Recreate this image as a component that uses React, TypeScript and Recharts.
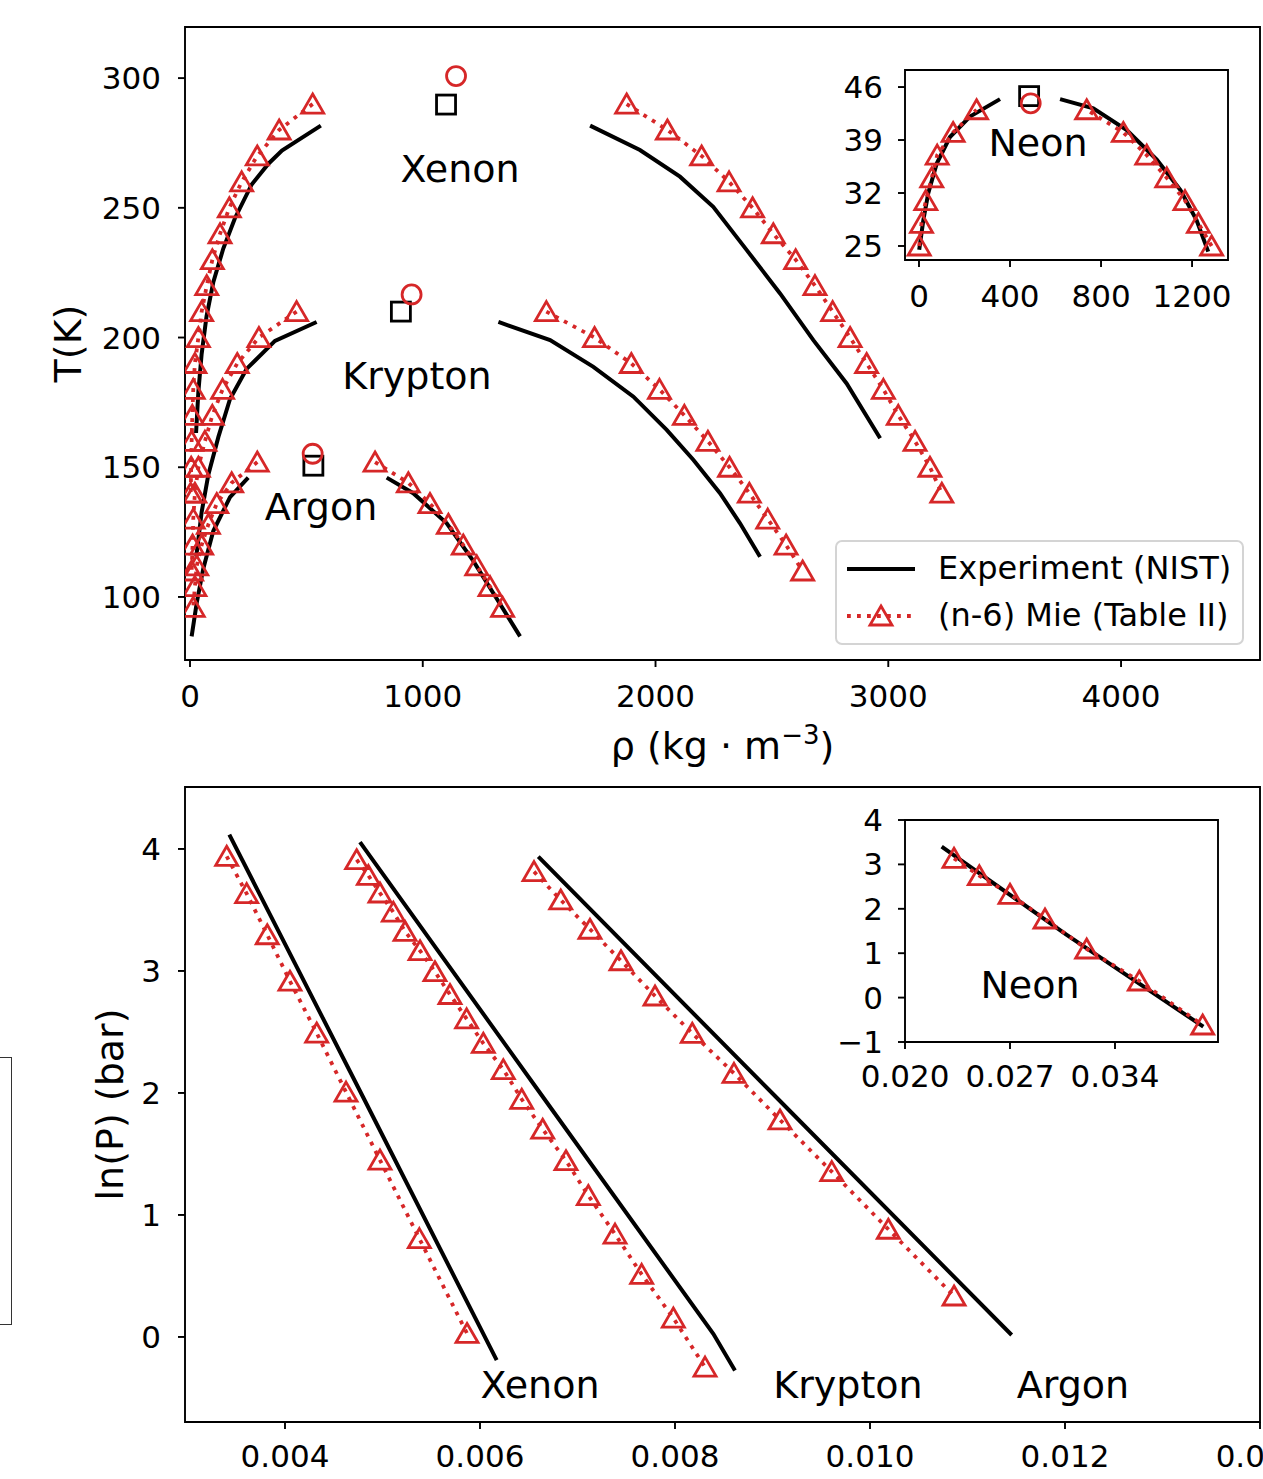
import React from 'react';
import {
  ComposedChart,
  Line,
  XAxis,
  YAxis,
  ReferenceArea,
  ReferenceDot,
  CartesianGrid,
} from 'recharts';

const RED = '#d62728';
const FONT = '"DejaVu Sans", sans-serif';

type Pt = { x: number; y: number };
const pts = (xs: number[], ys: number[]): Pt[] => xs.map((x, i) => ({ x, y: ys[i] }));

// ---- top panel: T vs rho ----
const rhoTicks = [0, 1000, 2000, 3000, 4000];
const tTicks = [100, 150, 200, 250, 300];

// NIST coexistence curves (rho kg/m3, T K)
const xeNistVap: Pt[] = [
  { x: 26, y: 163.2 }, { x: 36, y: 179.2 }, { x: 50, y: 193.7 }, { x: 71, y: 208.2 },
  { x: 100, y: 221.3 }, { x: 143, y: 234.3 }, { x: 193, y: 246 }, { x: 265, y: 259 },
  { x: 337, y: 267 }, { x: 395, y: 272.1 }, { x: 562, y: 281.7 },
];
const xeNistLiq: Pt[] = [
  { x: 1719, y: 281.7 }, { x: 1933, y: 272.3 }, { x: 2105, y: 262 }, { x: 2248, y: 250.4 },
  { x: 2392, y: 233.7 }, { x: 2535, y: 217 }, { x: 2678, y: 199 }, { x: 2821, y: 182.3 },
  { x: 2965, y: 161.2 },
];
const krNistVap: Pt[] = [
  { x: 27, y: 115.5 }, { x: 50, y: 132.7 }, { x: 79, y: 147.2 }, { x: 122, y: 161.7 },
  { x: 172, y: 176.3 }, { x: 243, y: 187.9 }, { x: 365, y: 198.7 }, { x: 544, y: 206 },
];
const krNistLiq: Pt[] = [
  { x: 1325, y: 206 }, { x: 1547, y: 199 }, { x: 1733, y: 188.7 }, { x: 1905, y: 177.2 },
  { x: 2048, y: 164.4 }, { x: 2163, y: 152.8 }, { x: 2277, y: 140 }, { x: 2363, y: 128.4 },
  { x: 2449, y: 115.5 },
];
const arNistVap: Pt[] = [
  { x: 7, y: 84.8 }, { x: 29, y: 97.8 }, { x: 57, y: 110.9 }, { x: 100, y: 125.4 },
  { x: 172, y: 138.5 }, { x: 250, y: 146 },
];
const arNistLiq: Pt[] = [
  { x: 845, y: 146 }, { x: 959, y: 140 }, { x: 1103, y: 128.4 }, { x: 1217, y: 113.9 },
  { x: 1318, y: 99.3 }, { x: 1418, y: 84.8 },
];

// (n-6) Mie simulation points
const xeMieT = [290, 280, 270, 260, 250, 240, 230, 220, 210, 200, 190, 180, 170, 160, 150, 140];
const xeMieVapRho = [527, 383, 289, 222, 169, 129, 96, 72, 50, 36, 21, 14, 10, 7, 5, 3];
const xeMieLiqRho = [1876, 2051, 2198, 2316, 2417, 2506, 2602, 2685, 2761, 2836, 2907, 2979, 3043, 3115, 3179, 3230];

const krMieT = [210, 200, 190, 180, 170, 160, 150, 140, 130, 120, 110];
const krMieVapRho = [458, 296, 203, 140, 96, 64, 36, 21, 14, 11, 7];
const krMieLiqRho = [1531, 1738, 1896, 2017, 2124, 2225, 2318, 2403, 2482, 2561, 2632];

const arMieT = [152, 144, 136, 128, 120, 112, 104, 96];
const arMieVapRho = [289, 179, 115, 79, 50, 29, 21, 14];
const arMieLiqRho = [795, 938, 1031, 1110, 1174, 1232, 1289, 1343];

// critical points: Xe, Kr, Ar
const critNistRho = [1100, 906, 530];
const critNistT = [289.8, 210, 150.6];
const critMieRho = [1143, 952, 527];
const critMieT = [300.8, 216.6, 155.2];

// neon inset
const neRhoTicks = [0, 400, 800, 1200];
const neTTicks = [25, 32, 39, 46];
const neNistVap: Pt[] = [
  { x: 1, y: 24.5 }, { x: 19, y: 28.4 }, { x: 41, y: 32 }, { x: 78, y: 35.9 },
  { x: 136, y: 39.4 }, { x: 224, y: 42.1 }, { x: 356, y: 44.4 },
];
const neNistLiq: Pt[] = [
  { x: 620, y: 44.4 }, { x: 766, y: 43.2 }, { x: 913, y: 40.3 }, { x: 1045, y: 36.4 },
  { x: 1149, y: 32.4 }, { x: 1220, y: 28.4 }, { x: 1271, y: 24.25 },
];
const neMieT = [25, 28, 31, 34, 37, 40, 43];
const neMieVapRho = [1, 11, 30, 56, 80, 150, 253];
const neMieLiqRho = [1286, 1228, 1169, 1089, 1001, 898, 737];
const neCritNist: Pt[] = [{ x: 484, y: 44.8 }];
const neCritMie: Pt[] = [{ x: 491, y: 43.85 }];

// ---- bottom panel: ln(P) vs 1/T ----
const invTTicks = [0.004, 0.006, 0.008, 0.01, 0.012, 0.014];
const lnPTicks = [0, 1, 2, 3, 4];

const xeLnMieX = [0.003402, 0.003607, 0.003818, 0.004051, 0.004325, 0.004626, 0.004974, 0.005378, 0.005867];
const xeLnMieY = [3.94, 3.634, 3.297, 2.916, 2.491, 2.007, 1.45, 0.806, 0.029];
const xeLnNistX = [0.003429, 0.004803, 0.006171];
const xeLnNistY = [4.117, 1.963, -0.19];

const krLnMieX = [
  0.004735, 0.004855, 0.004974, 0.005111, 0.005231, 0.005385, 0.005538, 0.005692, 0.005863, 0.006034,
  0.006239, 0.006428, 0.006643, 0.006882, 0.007111, 0.007385, 0.007658, 0.007983, 0.008308,
];
const krLnMieY = [
  3.912, 3.783, 3.639, 3.482, 3.324, 3.166, 2.994, 2.807, 2.607, 2.407,
  2.191, 1.948, 1.703, 1.445, 1.159, 0.843, 0.513, 0.155, -0.247,
];
const krLnNistX = [0.004769, 0.006581, 0.008393, 0.008615];
const krLnNistY = [4.056, 2.039, 0.026, -0.275];

const arLnMieX = [0.006554, 0.006828, 0.007128, 0.007446, 0.007795, 0.008177, 0.008605, 0.009077, 0.009608, 0.010188, 0.010862];
const arLnMieY = [3.814, 3.582, 3.342, 3.084, 2.795, 2.489, 2.161, 1.779, 1.355, 0.883, 0.336];
const arLnNistX = [0.006598, 0.009026, 0.011453];
const arLnNistY = [3.937, 1.975, 0.016];

const neInvTTicks = [0.02, 0.027, 0.034];
const neLnPTicks = [-1, 0, 1, 2, 3, 4];
const neLnMieX = [0.023267, 0.024953, 0.027, 0.029333, 0.032111, 0.035622, 0.039844];
const neLnMieY = [3.137, 2.746, 2.327, 1.77, 1.095, 0.374, -0.617];
const neLnNistX = [0.022444, 0.030733, 0.039889];
const neLnNistY = [3.399, 1.426, -0.655];

// ---- markers ----
const tri = (p: any) => (
  <path
    key={`tri-${p.index}`}
    d={`M${p.cx},${p.cy - 10}L${p.cx + 11},${p.cy + 9}L${p.cx - 11},${p.cy + 9}Z`}
    fill="none"
    stroke={RED}
    strokeWidth={2.8}
  />
);
const square = (p: any) => (
  <rect key={`sq-${p.index}`} x={p.cx - 9.5} y={p.cy - 9.5} width={19} height={19} fill="none" stroke="#000" strokeWidth={2.8} />
);
const circle = (p: any) => (
  <circle key={`ci-${p.index}`} cx={p.cx} cy={p.cy} r={9.5} fill="none" stroke={RED} strokeWidth={2.8} />
);

const tickFont = { fill: '#000', fontSize: 31 };
const tickLine = { stroke: '#000', strokeWidth: 1.9 };
const minus = (v: number) => (v < 0 ? `\u2212${Math.abs(v)}` : `${v}`);

const RhoLabel = (props: any) => {
  const { x, width, y } = props.viewBox;
  return (
    <text x={x + width / 2} y={y + 99} textAnchor="middle" fontSize={38} fill="#000">
      ρ (kg · m<tspan dy={-15} fontSize={26}>−3</tspan>
      <tspan dy={15}>)</tspan>
    </text>
  );
};

const VLabel = (props: any) => {
  const { viewBox, text, dx } = props;
  const cx = viewBox.x + dx;
  const cy = viewBox.y + viewBox.height / 2;
  return (
    <text x={cx} y={cy} transform={`rotate(-90, ${cx}, ${cy})`} textAnchor="middle" dominantBaseline="central" fontSize={38} fill="#000">
      {text}
    </text>
  );
};

const nameLabel = (value: string) => ({ value, position: 'center' as const, fill: '#000', fontSize: 38 });

const nist = (data: Pt[], key: string) => (
  <Line key={key} data={data} dataKey="y" stroke="#000" strokeWidth={4} dot={false} activeDot={false} isAnimationActive={false} />
);
const mie = (data: Pt[], key: string) => (
  <Line key={key} data={data} dataKey="y" stroke={RED} strokeWidth={3.8} strokeDasharray="3.8 6.2" dot={tri} activeDot={false} isAnimationActive={false} />
);
const marks = (data: Pt[], key: string, shape: any) => (
  <Line key={key} data={data} dataKey="y" stroke="none" dot={shape} activeDot={false} isAnimationActive={false} />
);

const TopMain = () => {
  const xd = [-21.5, 4597];
  const yd = [75.7, 319.7];
  return (
    <div style={{ position: 'absolute', left: 0, top: 0 }}>
      <ComposedChart width={1263} height={780} margin={{ top: 27, right: 3, bottom: 0, left: 0 }}>
        <XAxis type="number" dataKey="x" domain={xd} allowDataOverflow ticks={rhoTicks} interval={0} tickSize={7} tickMargin={18}
          axisLine={false} tickLine={tickLine} tick={tickFont} height={120} label={<RhoLabel />} />
        <YAxis type="number" dataKey="y" domain={yd} allowDataOverflow ticks={tTicks} interval={0} tickSize={7} tickMargin={17}
          axisLine={false} tickLine={tickLine} tick={tickFont} width={185} label={<VLabel text="T(K)" dx={68} />} />
        <ReferenceArea x1={xd[0]} x2={xd[1]} y1={yd[0]} y2={yd[1]} fill="none" stroke="#000" strokeWidth={1.9} ifOverflow="visible" />
        {nist(xeNistVap, 'xnv')}
        {nist(xeNistLiq, 'xnl')}
        {nist(krNistVap, 'knv')}
        {nist(krNistLiq, 'knl')}
        {nist(arNistVap, 'anv')}
        {nist(arNistLiq, 'anl')}
        {mie(pts(xeMieVapRho, xeMieT), 'xmv')}
        {mie(pts(xeMieLiqRho, xeMieT), 'xml')}
        {mie(pts(krMieVapRho, krMieT), 'kmv')}
        {mie(pts(krMieLiqRho, krMieT), 'kml')}
        {mie(pts(arMieVapRho, arMieT), 'amv')}
        {mie(pts(arMieLiqRho, arMieT), 'aml')}
        {marks(pts(critNistRho, critNistT), 'cn', square)}
        {marks(pts(critMieRho, critMieT), 'cm', circle)}
        <ReferenceDot x={1160} y={265.3} r={0} fill="none" stroke="none" label={nameLabel('Xenon')} />
        <ReferenceDot x={975} y={185.2} r={0} fill="none" stroke="none" label={nameLabel('Krypton')} />
        <ReferenceDot x={563} y={135} r={0} fill="none" stroke="none" label={nameLabel('Argon')} />
      </ComposedChart>
    </div>
  );
};

const TopInset = () => {
  const xd = [-61.5, 1358];
  const yd = [23.15, 48.25];
  return (
    <div style={{ position: 'absolute', left: 820, top: 40 }}>
      <ComposedChart width={418} height={280} margin={{ top: 30, right: 10, bottom: 0, left: 0 }}>
        <CartesianGrid fill="#fff" horizontal={false} vertical={false} stroke="none" />
        <XAxis type="number" dataKey="x" domain={xd} allowDataOverflow ticks={neRhoTicks} interval={0} tickSize={7} tickMargin={18}
          axisLine={false} tickLine={tickLine} tick={tickFont} height={60} />
        <YAxis type="number" dataKey="y" domain={yd} allowDataOverflow ticks={neTTicks} interval={0} tickSize={7} tickMargin={15}
          axisLine={false} tickLine={tickLine} tick={tickFont} width={85} />
        <ReferenceArea x1={xd[0]} x2={xd[1]} y1={yd[0]} y2={yd[1]} fill="none" stroke="#000" strokeWidth={1.9} ifOverflow="visible" />
        {nist(neNistVap, 'nnv')}
        {nist(neNistLiq, 'nnl')}
        {mie(pts(neMieVapRho, neMieT), 'nmv')}
        {mie(pts(neMieLiqRho, neMieT), 'nml')}
        {marks(neCritNist, 'ncn', square)}
        {marks(neCritMie, 'ncm', circle)}
        <ReferenceDot x={523} y={38.7} r={0} fill="none" stroke="none" label={nameLabel('Neon')} />
      </ComposedChart>
    </div>
  );
};

const BottomMain = () => {
  const xd = [0.0029744, 0.014];
  const yd = [-0.697, 4.508];
  return (
    <div style={{ position: 'absolute', left: 0, top: 760 }}>
      <ComposedChart width={1263} height={719} margin={{ top: 27, right: 3, bottom: 0, left: 0 }}>
        <XAxis type="number" dataKey="x" domain={xd} allowDataOverflow ticks={invTTicks} interval={0} tickSize={7} tickMargin={16}
          axisLine={false} tickLine={tickLine} tick={tickFont} height={57} tickFormatter={(v: number) => v.toFixed(3)} />
        <YAxis type="number" dataKey="y" domain={yd} allowDataOverflow ticks={lnPTicks} interval={0} tickSize={7} tickMargin={17}
          axisLine={false} tickLine={tickLine} tick={tickFont} width={185} label={<VLabel text="ln(P) (bar)" dx={110} />} />
        <ReferenceArea x1={xd[0]} x2={xd[1]} y1={yd[0]} y2={yd[1]} fill="none" stroke="#000" strokeWidth={1.9} ifOverflow="visible" />
        {nist(pts(xeLnNistX, xeLnNistY), 'xn')}
        {nist(pts(krLnNistX, krLnNistY), 'kn')}
        {nist(pts(arLnNistX, arLnNistY), 'an')}
        {mie(pts(xeLnMieX, xeLnMieY), 'xm')}
        {mie(pts(krLnMieX, krLnMieY), 'km')}
        {mie(pts(arLnMieX, arLnMieY), 'am')}
        <ReferenceDot x={0.006615} y={-0.393} r={0} fill="none" stroke="none" label={nameLabel('Xenon')} />
        <ReferenceDot x={0.009774} y={-0.393} r={0} fill="none" stroke="none" label={nameLabel('Krypton')} />
        <ReferenceDot x={0.012082} y={-0.393} r={0} fill="none" stroke="none" label={nameLabel('Argon')} />
      </ComposedChart>
    </div>
  );
};

const BottomInset = () => {
  const xd = [0.02, 0.040867];
  const yd = [-1, 4];
  return (
    <div style={{ position: 'absolute', left: 820, top: 800 }}>
      <ComposedChart width={408} height={302} margin={{ top: 20, right: 10, bottom: 0, left: 0 }}>
        <CartesianGrid fill="#fff" horizontal={false} vertical={false} stroke="none" />
        <XAxis type="number" dataKey="x" domain={xd} allowDataOverflow ticks={neInvTTicks} interval={0} tickSize={7} tickMargin={16}
          axisLine={false} tickLine={tickLine} tick={tickFont} height={60} tickFormatter={(v: number) => v.toFixed(3)} />
        <YAxis type="number" dataKey="y" domain={yd} allowDataOverflow ticks={neLnPTicks} interval={0} tickSize={7} tickMargin={15}
          axisLine={false} tickLine={tickLine} tick={tickFont} width={85} tickFormatter={minus} />
        <ReferenceArea x1={xd[0]} x2={xd[1]} y1={yd[0]} y2={yd[1]} fill="none" stroke="#000" strokeWidth={1.9} ifOverflow="visible" />
        {nist(pts(neLnNistX, neLnNistY), 'nn')}
        {mie(pts(neLnMieX, neLnMieY), 'nm')}
        <ReferenceDot x={0.028333} y={0.284} r={0} fill="none" stroke="none" label={nameLabel('Neon')} />
      </ComposedChart>
    </div>
  );
};

const LegendBox = () => (
  <div
    style={{
      position: 'absolute', left: 835, top: 540, width: 409, height: 105, boxSizing: 'border-box',
      border: '2px solid #d4d4d4', borderRadius: 7, background: 'rgba(255,255,255,0.85)', fontSize: 32, color: '#000',
    }}
  >
    <svg style={{ position: 'absolute', left: 8, top: 10 }} width={80} height={85}>
      <line x1={2} y1={17} x2={70} y2={17} stroke="#000" strokeWidth={4} />
      <line x1={2} y1={64} x2={70} y2={64} stroke={RED} strokeWidth={3.8} strokeDasharray="3.8 6.2" />
      <path d="M36,54L47,73L25,73Z" fill="none" stroke={RED} strokeWidth={2.8} />
    </svg>
    <div style={{ position: 'absolute', left: 101, top: 7, lineHeight: '38px', whiteSpace: 'nowrap' }}>Experiment (NIST)</div>
    <div style={{ position: 'absolute', left: 101, top: 54, lineHeight: '38px', whiteSpace: 'nowrap' }}>(n-6) Mie (Table II)</div>
  </div>
);

export default function App() {
  return (
    <div style={{ position: 'absolute', left: 0, top: 0, width: 1263, height: 1479, overflow: 'hidden', background: '#fff', fontFamily: FONT }}>
      <TopMain />
      <TopInset />
      <LegendBox />
      <BottomMain />
      <BottomInset />
      <div style={{ position: 'absolute', left: -10, top: 1057, width: 22, height: 268, border: '1.5px solid #333', boxSizing: 'border-box' }} />
    </div>
  );
}
